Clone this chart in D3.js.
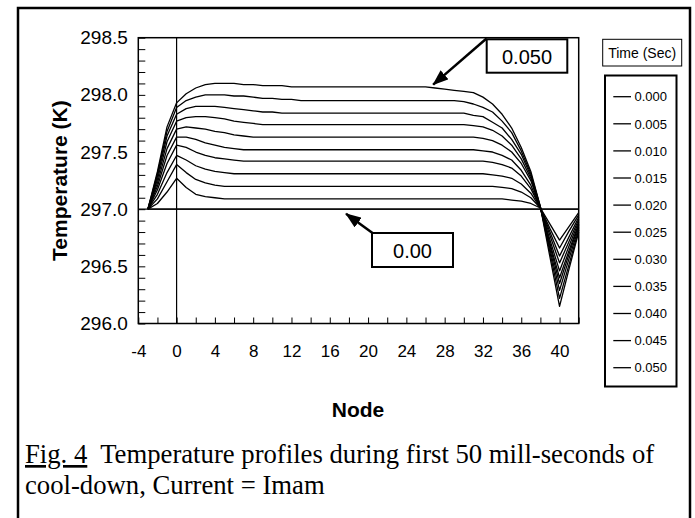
<!DOCTYPE html>
<html>
<head>
<meta charset="utf-8">
<script src="https://cdnjs.cloudflare.com/ajax/libs/d3/7.8.5/d3.min.js"></script>
<style>
body { margin: 0; background: #fff; }
text { font-family: "Liberation Sans", Arial, sans-serif; fill: #000; }
</style>
</head>
<body>
<div id="chart"></div>
<script>

// node numbers along the x axis
var nodes = [-3, -2, -1, 0, 1, 2, 3, 4, 5, 6,
             7, 8, 9, 10, 11, 12, 13, 14, 15, 16,
             17, 18, 19, 20, 21, 22, 23, 24, 25, 26,
             27, 28, 29, 30, 31, 32, 33, 34, 35, 36,
             37, 38, 39, 40, 41, 42];

var timeLabels = ["0.000", "0.005", "0.010", "0.015", "0.020", "0.025",
                  "0.030", "0.035", "0.040", "0.045", "0.050"];

// temperature (K) per node, one array per time step
var temp000 = [297.00, 297.00, 297.00, 297.00, 297.00, 297.00, 297.00, 297.00, 297.00, 297.00,
               297.00, 297.00, 297.00, 297.00, 297.00, 297.00, 297.00, 297.00, 297.00, 297.00,
               297.00, 297.00, 297.00, 297.00, 297.00, 297.00, 297.00, 297.00, 297.00, 297.00,
               297.00, 297.00, 297.00, 297.00, 297.00, 297.00, 297.00, 297.00, 297.00, 297.00,
               297.00, 297.00, 297.00, 297.00, 297.00, 297.00];
var temp005 = [297.00, 297.05, 297.15, 297.27, 297.19, 297.13, 297.11, 297.10, 297.09, 297.09,
               297.09, 297.09, 297.09, 297.09, 297.09, 297.09, 297.09, 297.09, 297.09, 297.09,
               297.09, 297.09, 297.09, 297.09, 297.09, 297.09, 297.09, 297.09, 297.09, 297.09,
               297.09, 297.09, 297.09, 297.09, 297.09, 297.09, 297.09, 297.09, 297.08, 297.07,
               297.05, 297.01, 296.87, 296.73, 296.85, 296.97];
var temp010 = [297.00, 297.09, 297.24, 297.39, 297.32, 297.26, 297.23, 297.21, 297.20, 297.20,
               297.20, 297.20, 297.20, 297.20, 297.20, 297.20, 297.20, 297.20, 297.20, 297.20,
               297.20, 297.20, 297.20, 297.20, 297.20, 297.20, 297.20, 297.20, 297.20, 297.20,
               297.20, 297.20, 297.20, 297.20, 297.20, 297.20, 297.20, 297.19, 297.18, 297.15,
               297.10, 297.01, 296.83, 296.66, 296.81, 296.95];
var temp015 = [297.00, 297.13, 297.32, 297.47, 297.43, 297.38, 297.35, 297.33, 297.32, 297.31,
               297.31, 297.31, 297.31, 297.31, 297.31, 297.31, 297.31, 297.31, 297.31, 297.31,
               297.31, 297.31, 297.31, 297.31, 297.31, 297.31, 297.31, 297.31, 297.31, 297.31,
               297.31, 297.31, 297.31, 297.31, 297.31, 297.31, 297.30, 297.29, 297.27, 297.22,
               297.14, 297.01, 296.80, 296.59, 296.76, 296.93];
var temp020 = [297.00, 297.17, 297.40, 297.56, 297.54, 297.50, 297.47, 297.45, 297.44, 297.43,
               297.42, 297.42, 297.42, 297.42, 297.42, 297.42, 297.42, 297.42, 297.42, 297.42,
               297.42, 297.42, 297.42, 297.42, 297.42, 297.42, 297.42, 297.42, 297.42, 297.42,
               297.42, 297.42, 297.42, 297.42, 297.42, 297.42, 297.41, 297.39, 297.36, 297.29,
               297.18, 297.01, 296.77, 296.53, 296.72, 296.91];
var temp025 = [297.00, 297.20, 297.47, 297.63, 297.63, 297.61, 297.58, 297.56, 297.54, 297.53,
               297.52, 297.52, 297.52, 297.52, 297.52, 297.52, 297.52, 297.52, 297.52, 297.52,
               297.52, 297.52, 297.52, 297.52, 297.52, 297.52, 297.52, 297.52, 297.52, 297.52,
               297.52, 297.52, 297.52, 297.52, 297.52, 297.51, 297.50, 297.47, 297.43, 297.34,
               297.21, 297.01, 296.73, 296.46, 296.68, 296.89];
var temp030 = [297.00, 297.23, 297.53, 297.70, 297.72, 297.71, 297.70, 297.68, 297.67, 297.65,
               297.64, 297.63, 297.63, 297.63, 297.63, 297.63, 297.63, 297.63, 297.63, 297.63,
               297.63, 297.63, 297.63, 297.63, 297.63, 297.63, 297.63, 297.63, 297.63, 297.63,
               297.63, 297.63, 297.63, 297.63, 297.63, 297.62, 297.60, 297.56, 297.50, 297.40,
               297.25, 297.01, 296.70, 296.40, 296.64, 296.87];
var temp035 = [297.00, 297.26, 297.59, 297.77, 297.80, 297.81, 297.81, 297.80, 297.79, 297.77,
               297.76, 297.75, 297.74, 297.74, 297.74, 297.74, 297.74, 297.74, 297.74, 297.74,
               297.74, 297.74, 297.74, 297.74, 297.74, 297.74, 297.74, 297.74, 297.74, 297.74,
               297.74, 297.74, 297.74, 297.74, 297.73, 297.72, 297.69, 297.64, 297.56, 297.44,
               297.27, 297.01, 296.68, 296.35, 296.61, 296.86];
var temp040 = [297.00, 297.29, 297.64, 297.83, 297.88, 297.90, 297.90, 297.90, 297.89, 297.88,
               297.87, 297.86, 297.85, 297.85, 297.84, 297.84, 297.84, 297.84, 297.84, 297.84,
               297.84, 297.84, 297.84, 297.84, 297.84, 297.84, 297.84, 297.84, 297.84, 297.84,
               297.84, 297.84, 297.84, 297.84, 297.82, 297.81, 297.76, 297.71, 297.61, 297.48,
               297.29, 297.02, 296.65, 296.29, 296.57, 296.84];
var temp045 = [297.00, 297.31, 297.68, 297.89, 297.95, 297.98, 298.00, 298.00, 298.00, 297.99,
               297.99, 297.98, 297.97, 297.97, 297.96, 297.96, 297.95, 297.95, 297.95, 297.95,
               297.95, 297.95, 297.95, 297.95, 297.95, 297.95, 297.95, 297.95, 297.95, 297.95,
               297.95, 297.95, 297.95, 297.94, 297.92, 297.89, 297.85, 297.77, 297.67, 297.51,
               297.31, 297.02, 296.62, 296.22, 296.52, 296.82];
var temp050 = [297.00, 297.33, 297.72, 297.93, 298.01, 298.06, 298.09, 298.10, 298.10, 298.10,
               298.09, 298.09, 298.08, 298.08, 298.08, 298.07, 298.07, 298.07, 298.07, 298.07,
               298.07, 298.07, 298.07, 298.07, 298.07, 298.07, 298.07, 298.07, 298.07, 298.07,
               298.06, 298.05, 298.04, 298.03, 298.02, 297.98, 297.92, 297.83, 297.71, 297.54,
               297.33, 297.02, 296.58, 296.15, 296.48, 296.80];

var series = [temp000, temp005, temp010, temp015, temp020, temp025,
              temp030, temp035, temp040, temp045, temp050];

var xTickLabels = [-4, 0, 4, 8, 12, 16, 20, 24, 28, 32, 36, 40];
var yTickLabels = [296.0, 296.5, 297.0, 297.5, 298.0, 298.5];

var calloutLabels = ["0.050", "0.00"];

drawChart();

function drawChart(){
    var width = 695, height = 518;
    var plot = {left: 138.3, right: 578.7, top: 37.7, bottom: 323.5};

    var x = d3.scaleLinear()
            .domain([-4, 42])
            .range([plot.left, plot.right]);

    var y = d3.scaleLinear()
            .domain([296, 298.5])
            .range([plot.bottom, plot.top]);

    var svg = d3.select("#chart")
                .append("svg")
                .attr("width", width)
                .attr("height", height);

    // outer frame
    svg.append("rect")
        .attr("x", 18).attr("y", 8)
        .attr("width", 672).attr("height", 520)
        .attr("fill", "none")
        .attr("stroke", "#000")
        .attr("stroke-width", 2.5);

    // minor ticks (inside the plot)
    svg.append("g")
        .attr("transform", "translate(0," + plot.bottom + ")")
        .call(d3.axisBottom(x).tickValues(d3.range(-4, 43, 2)).tickSize(-6).tickFormat(""))
        .call(g => g.select(".domain").remove());

    svg.append("g")
        .attr("transform", "translate(" + plot.left + ",0)")
        .call(d3.axisLeft(y).tickValues(d3.range(0, 26).map(i => 296 + i * 0.1)).tickSize(-7).tickFormat(""))
        .call(g => g.select(".domain").remove());

    // tick labels
    svg.append("g")
        .attr("transform", "translate(0," + plot.bottom + ")")
        .call(d3.axisBottom(x).tickValues(xTickLabels).tickSize(0).tickPadding(21).tickFormat(d => String(d)))
        .call(g => g.select(".domain").remove())
        .attr("font-family", "Liberation Sans, Arial, sans-serif")
        .attr("font-size", 17);

    svg.append("g")
        .attr("transform", "translate(" + plot.left + ",0)")
        .call(d3.axisLeft(y).tickValues(yTickLabels).tickSize(0).tickPadding(10.5).tickFormat(d => d.toFixed(1)))
        .call(g => g.select(".domain").remove())
        .attr("font-family", "Liberation Sans, Arial, sans-serif")
        .attr("font-size", 19);

    // zero lines
    svg.append("line")
        .attr("x1", x(0)).attr("x2", x(0))
        .attr("y1", plot.top).attr("y2", plot.bottom)
        .attr("stroke", "#000").attr("stroke-width", 1.2);
    svg.append("line")
        .attr("x1", plot.left).attr("x2", plot.right)
        .attr("y1", y(297)).attr("y2", y(297))
        .attr("stroke", "#000").attr("stroke-width", 1.2);

    var valueline = d3.line()
                    .x(function(d, i) { return x(nodes[i]); })
                    .y(function(d) { return y(d); });

    svg.append("g")
        .selectAll("path")
        .data(series)
        .enter()
        .append("path")
        .attr("d", valueline)
        .attr("fill", "none")
        .attr("stroke", "#000")
        .attr("stroke-width", 1.3)
        .attr("stroke-linejoin", "round");

    // plot frame
    svg.append("rect")
        .attr("x", plot.left).attr("y", plot.top)
        .attr("width", plot.right - plot.left)
        .attr("height", plot.bottom - plot.top)
        .attr("fill", "none")
        .attr("stroke", "#000")
        .attr("stroke-width", 1.5);

    // axis titles
    svg.append("text")
        .attr("transform", "translate(67," + ((plot.top + plot.bottom) / 2) + ") rotate(-90)")
        .attr("text-anchor", "middle")
        .style("font-size", "21px")
        .style("font-weight", "bold")
        .text("Temperature (K)");

    svg.append("text")
        .attr("x", 358)
        .attr("y", 417)
        .attr("text-anchor", "middle")
        .style("font-size", "21px")
        .style("font-weight", "bold")
        .text("Node");

    // callouts
    svg.append("defs").append("marker")
        .attr("id", "head")
        .attr("viewBox", "0 0 16 12")
        .attr("refX", 15).attr("refY", 6)
        .attr("markerWidth", 16).attr("markerHeight", 12)
        .attr("markerUnits", "userSpaceOnUse")
        .attr("orient", "auto")
        .append("path")
        .attr("d", "M0,0L16,6L0,12Z")
        .attr("fill", "#000");

    var callouts = [
        {box: [486.7, 39.3, 80.6, 33.4], from: [486.5, 38.5], to: [x(26.8), y(298.09)]},
        {box: [372, 233, 81, 34], from: [372.5, 233], to: [x(17.7), y(296.96)]}
    ];

    callouts.forEach(function(c, i){
        svg.append("line")
            .attr("x1", c.from[0]).attr("y1", c.from[1])
            .attr("x2", c.to[0]).attr("y2", c.to[1])
            .attr("stroke", "#000")
            .attr("stroke-width", 2.5)
            .attr("marker-end", "url(#head)");
        svg.append("rect")
            .attr("x", c.box[0]).attr("y", c.box[1])
            .attr("width", c.box[2]).attr("height", c.box[3])
            .attr("fill", "#fff")
            .attr("stroke", "#000")
            .attr("stroke-width", 2);
        svg.append("text")
            .attr("x", c.box[0] + c.box[2] / 2)
            .attr("y", c.box[1] + c.box[3] / 2 + 7.5)
            .attr("text-anchor", "middle")
            .style("font-size", "20px")
            .text(calloutLabels[i]);
    });

    // legend
    svg.append("rect")
        .attr("x", 602.7).attr("y", 39.3)
        .attr("width", 79).attr("height", 26.7)
        .attr("fill", "none")
        .attr("stroke", "#000")
        .attr("stroke-width", 1);
    svg.append("text")
        .attr("x", 642.2).attr("y", 58)
        .attr("text-anchor", "middle")
        .style("font-size", "14px")
        .text("Time (Sec)");

    svg.append("rect")
        .attr("x", 605).attr("y", 75.5)
        .attr("width", 71.5).attr("height", 311)
        .attr("fill", "none")
        .attr("stroke", "#000")
        .attr("stroke-width", 2);

    var item = svg.append("g")
        .selectAll("g")
        .data(timeLabels)
        .enter()
        .append("g")
        .attr("transform", function(d, i) { return "translate(0," + (96.7 + i * 27.1) + ")"; });
    item.append("line")
        .attr("x1", 613.3).attr("x2", 631)
        .attr("stroke", "#000").attr("stroke-width", 1.3);
    item.append("text")
        .attr("x", 634.5)
        .attr("y", 4.7)
        .style("font-size", "13px")
        .text(d => d);

    // caption
    var cap = svg.append("text")
        .attr("x", 25).attr("y", 463)
        .style("font-family", "Liberation Serif, Times New Roman, serif")
        .style("font-size", "26.7px")
        .style("white-space", "pre");
    cap.append("tspan")
        .attr("text-decoration", "underline")
        .text("Fig. 4");
    cap.append("tspan")
        .text("  Temperature profiles during first 50 mill-seconds of");
    svg.append("text")
        .attr("x", 25).attr("y", 494)
        .style("font-family", "Liberation Serif, Times New Roman, serif")
        .style("font-size", "26.7px")
        .text("cool-down, Current = Imam");
}
</script>
</body>
</html>
